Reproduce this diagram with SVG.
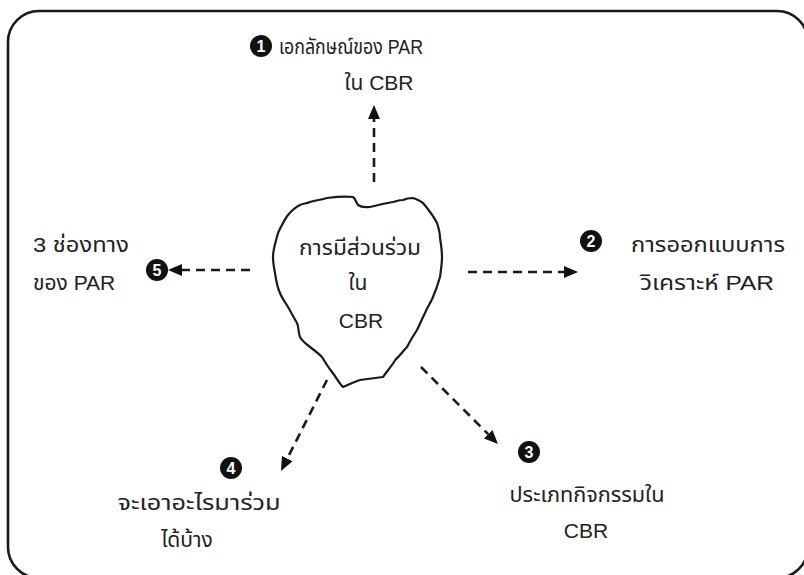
<svg xmlns="http://www.w3.org/2000/svg" width="804" height="575" viewBox="0 0 804 575">
  <style>
    .frame { fill: none; stroke: #1a1a1a; stroke-width: 2.6; }
    .blob { fill: #ffffff; stroke: #1a1a1a; stroke-width: 2.2; stroke-linejoin: round; }
    .lbl { font-family: "Liberation Sans", "Noto Sans Thai", "DejaVu Sans", "Noto Sans", sans-serif; font-size: 21px; fill: #222222; }
    .mid { text-anchor: middle; }
    .dash { fill: none; stroke: #1a1a1a; stroke-width: 2.6; stroke-dasharray: 9 6; }
    .badge circle { fill: #111111; }
    .badge text { font-family: "Liberation Sans", "DejaVu Sans", sans-serif; font-size: 16px; font-weight: bold; fill: #ffffff; text-anchor: middle; }
  </style>
  <defs>
    <marker id="head" viewBox="0 0 14 12" refX="0" refY="6" markerWidth="14" markerHeight="12" markerUnits="userSpaceOnUse" orient="auto">
      <path d="M0,0 L14,6 L0,12 Z" fill="#111111"/>
    </marker>
  </defs>

  <rect width="804" height="575" fill="#ffffff"/>
  <rect class="frame" x="8" y="11" width="800" height="567" rx="31" ry="31"/>

  <!-- central topic: hand-drawn outline -->
  <g id="center">
    <path class="blob" d="M288,215 C292,210 296,207 300,205 C304,203 306,204 310,202 C316,200 321,200 327,198 C335,197 344,196 353,197 C356,199 356,203 358,205 C362,208 366,207 370,207 C378,205 386,203 393,202 C397,201 399,200 403,200 C407,198 410,198 413,198 C417,199 420,201 423,203 C428,209 433,215 437,223 C439,229 440,232 440,238 C441,244 442,250 442,257 C442,264 441,270 440,277 C438,284 436,290 433,297 C431,302 427,308 425,313 C422,319 420,324 417,330 C413,336 410,341 407,347 C402,352 400,356 396,359 C393,364 388,370 383,377 C376,378 368,379 360,380 C354,382 348,385 343,387 C339,383 336,377 332,372 C328,367 325,362 322,357 C318,353 314,350 310,347 C306,344 302,341 300,337 C298,332 299,327 297,323 C294,318 291,312 288,307 C285,302 282,298 280,293 C277,287 276,280 275,273 C274,268 273,262 273,257 C273,249 276,241 278,233 C281,227 284,220 288,215 Z"/>
    <text class="lbl mid" x="360" y="255" textLength="122" lengthAdjust="spacingAndGlyphs">การมีส่วนร่วม</text>
    <text class="lbl mid" x="358" y="290">ใน</text>
    <text class="lbl mid" x="361" y="328">CBR</text>
  </g>

  <!-- connectors -->
  <g id="connectors">
    <line class="dash" x1="374" y1="182" x2="374" y2="119" marker-end="url(#head)"/>
    <line class="dash" x1="468" y1="272" x2="564" y2="272" marker-end="url(#head)"/>
    <line class="dash" x1="421" y1="367" x2="488.1" y2="434.1" marker-end="url(#head)"/>
    <line class="dash" x1="327" y1="380" x2="287.3" y2="458.5" marker-end="url(#head)"/>
    <line class="dash" x1="250" y1="270" x2="182" y2="270" marker-end="url(#head)"/>
  </g>

  <!-- 1 -->
  <g id="node1">
    <g class="badge"><circle cx="261" cy="46" r="11"/><text x="261" y="52">1</text></g>
    <text class="lbl" x="279" y="54" textLength="144" lengthAdjust="spacingAndGlyphs">เอกลักษณ์ของ PAR</text>
    <text class="lbl mid" x="379" y="90">ใน CBR</text>
  </g>

  <!-- 2 -->
  <g id="node2">
    <g class="badge"><circle cx="591" cy="241" r="11"/><text x="591" y="247">2</text></g>
    <text class="lbl mid" x="708" y="252" textLength="154" lengthAdjust="spacingAndGlyphs">การออกแบบการ</text>
    <text class="lbl mid" x="707" y="290" textLength="134" lengthAdjust="spacingAndGlyphs">วิเคราะห์ PAR</text>
  </g>

  <!-- 3 -->
  <g id="node3">
    <g class="badge"><circle cx="529" cy="452" r="11"/><text x="529" y="458">3</text></g>
    <text class="lbl mid" x="587" y="502" textLength="155" lengthAdjust="spacingAndGlyphs">ประเภทกิจกรรมใน</text>
    <text class="lbl mid" x="586" y="538">CBR</text>
  </g>

  <!-- 4 -->
  <g id="node4">
    <g class="badge"><circle cx="231" cy="468" r="11"/><text x="231" y="474">4</text></g>
    <text class="lbl mid" x="199" y="510" textLength="163" lengthAdjust="spacingAndGlyphs">จะเอาอะไรมาร่วม</text>
    <text class="lbl mid" x="187" y="547">ได้บ้าง</text>
  </g>

  <!-- 5 -->
  <g id="node5">
    <g class="badge"><circle cx="157" cy="270" r="11"/><text x="157" y="276">5</text></g>
    <text class="lbl" x="33" y="252" textLength="96" lengthAdjust="spacingAndGlyphs">3 ช่องทาง</text>
    <text class="lbl" x="33" y="290">ของ PAR</text>
  </g>
</svg>
